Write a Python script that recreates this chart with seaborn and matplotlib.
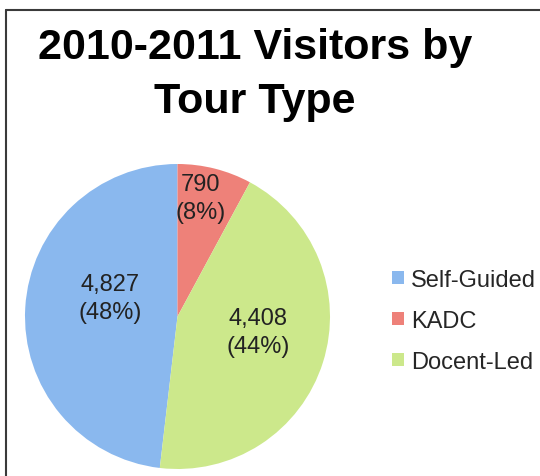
import numpy as np
import matplotlib
matplotlib.use('Agg')
import matplotlib.pyplot as plt
from matplotlib.patches import Patch
from matplotlib.lines import Line2D
import seaborn as sns

# data
tour_types = ['Self-Guided', 'KADC', 'Docent-Led']
visitors = [4827, 790, 4408]
colors = ['#8AB8EE', '#EE8179', '#CCE88B']

# label placement tweaks (radius fraction, angle offset in degrees)
label_r = [0.46, 0.79, 0.54]
label_dang = [-12, 3, 7]

sns.set_theme(style='white')
plt.rcParams['font.family'] = ['Liberation Sans', 'DejaVu Sans']

fig = plt.figure(figsize=(5.4, 4.77), dpi=100)
fig.patch.set_facecolor('white')

r_px = 152.5
cx, cy = 177.5, 317.5
ax = fig.add_axes([(cx - r_px) / 540, (477 - cy - r_px) / 477, 2 * r_px / 540, 2 * r_px / 477])

total = sum(visitors)
start = 90 + 360 * visitors[0] / total
wedges, _ = ax.pie(visitors, colors=colors, startangle=start, counterclock=False,
                   wedgeprops=dict(linewidth=0))
ax.set_xlim(-1, 1)
ax.set_ylim(-1, 1)
ax.set_aspect('auto')
ax.axis('off')

for w, v, rr, da in zip(wedges, visitors, label_r, label_dang):
    mid = np.deg2rad((w.theta1 + w.theta2) / 2 + da)
    pct = 100 * v / total
    ax.text(rr * np.cos(mid), rr * np.sin(mid), f'{v:,}\n({pct:.0f}%)',
            ha='center', va='center', fontsize=17, color='#222222', linespacing=1.35)

fig.text(255 / 540, 1 - 75 / 477, '2010-2011 Visitors by\nTour Type', ha='center', va='center',
         fontsize=31, fontweight='bold', color='black', linespacing=1.42)

handles = [Patch(facecolor=c, edgecolor='none') for c in colors]
fig.legend(handles, tour_types, loc='center left', bbox_to_anchor=(392 / 540, 1 - 322 / 477),
           frameon=False, fontsize=17, handlelength=0.5, handleheight=0.5,
           handletextpad=0.3, labelspacing=0.8, borderpad=0, borderaxespad=0)

# frame lines (top and left)
fig.add_artist(Line2D([6 / 540, 1], [1 - 11 / 477, 1 - 11 / 477], color='#3a3a3a', lw=1.5))
fig.add_artist(Line2D([6 / 540, 6 / 540], [0, 1 - 11 / 477], color='#3a3a3a', lw=1.5))

fig.savefig('out.png', dpi=100)
